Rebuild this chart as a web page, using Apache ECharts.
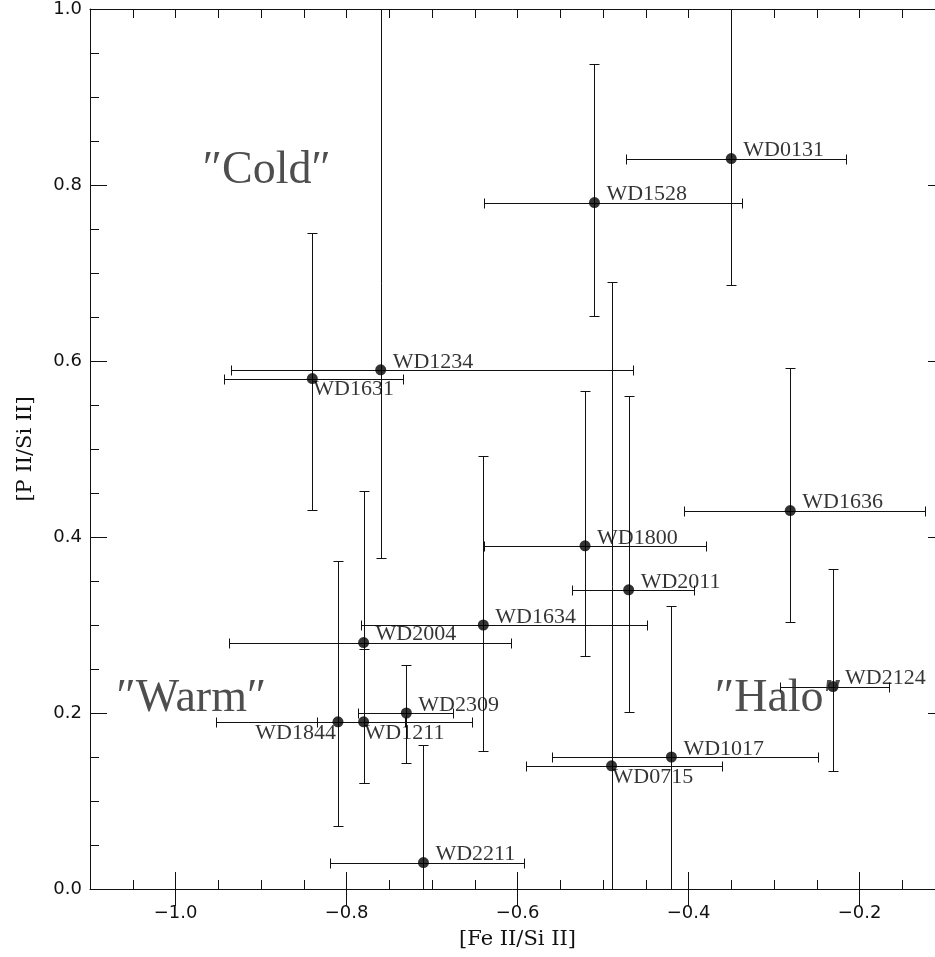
<!DOCTYPE html>
<html>
<head>
<meta charset="utf-8">
<script src="https://cdn.jsdelivr.net/npm/echarts@6/dist/echarts.min.js"></script>
<style>html,body{margin:0;padding:0;background:#fff;}#c{width:935px;height:957px;}</style>
</head>
<body>
<div id="c"></div>
<script>
// ---- data ----
const names    = ['WD0131','WD1528','WD1234','WD1631','WD1636','WD1800','WD2011','WD1634','WD2004','WD2124','WD2309','WD1844','WD1211','WD1017','WD0715','WD2211'];
const feSi     = [-0.350,-0.510,-0.760,-0.840,-0.281,-0.521,-0.470,-0.640,-0.780,-0.231,-0.730,-0.810,-0.780,-0.420,-0.490,-0.710];
const feSiLow  = [-0.473,-0.639,-0.935,-0.943,-0.405,-0.639,-0.536,-0.783,-0.938,-0.293,-0.787,-0.953,-0.835,-0.560,-0.590,-0.819];
const feSiHigh = [-0.2155,-0.337,-0.465,-0.734,-0.123,-0.379,-0.393,-0.449,-0.608,-0.166,-0.676,-0.653,-0.732,-0.248,-0.361,-0.592];
const pSi      = [0.830,0.780,0.590,0.580,0.430,0.390,0.340,0.300,0.280,0.230,0.200,0.190,0.190,0.150,0.140,0.030];
const pSiLow   = [0.686,0.651,0.376,0.431,0.303,0.265,0.201,0.157,0.120,0.134,0.143,0.072,0.120,-0.05,-0.05,-0.05];
const pSiHigh  = [1.05,0.938,1.05,0.746,0.592,0.566,0.560,0.492,0.4525,0.364,0.254,0.373,0.2725,0.322,0.690,0.164];
const labelsBelowRight = ['WD1631','WD1211','WD0715'];
const labelsBelowLeft  = ['WD1844'];
const xTicks = [-1.0,-0.8,-0.6,-0.4,-0.2];
const yTicks = [0.0,0.2,0.4,0.6,0.8,1.0];
const regionNames = ['\u2033Cold\u2033','\u2033Warm\u2033','\u2033Halo\u2033'];
const regionX = [-0.968,-1.069,-0.369];
const regionY = [0.816,0.216,0.216];

// ---- chart ----
const ink = '#111';
const serif = 'Liberation Serif';
const chart = echarts.init(document.getElementById('c'), null, {renderer:'canvas'});

const errRows = names.map((n,i)=>[feSi[i],pSi[i],feSiLow[i],feSiHigh[i],pSiLow[i],pSiHigh[i]]);

const pointData = names.map((n,i)=>{
  let label;
  if (labelsBelowRight.includes(n)) {
    label = {position:'inside', align:'left', verticalAlign:'top', offset:[1,0]};
  } else if (labelsBelowLeft.includes(n)) {
    label = {position:'inside', align:'right', verticalAlign:'top', offset:[-2,0]};
  } else {
    label = {position:'inside', align:'left', verticalAlign:'bottom', offset:[12,3]};
  }
  return {name:n, value:[feSi[i],pSi[i]], label};
});

const fmtMinus = v => (v<0?'\u2212':'') + Math.abs(v).toFixed(1);
const base = (extra) => Object.assign({
  type:'value', splitLine:{show:false},
  axisLine:{show:false, lineStyle:{color:ink,width:1}},
  axisLabel:{show:false},
}, extra);

const xBase = {min:-1.1, max:-0.1, interval:0.05};
const yBase = {min:0, max:1, interval:0.05};

const option = {
  backgroundColor:'#fff',
  animation:false,
  grid:{left:90, top:9, width:855, height:880, containLabel:false, outerBoundsMode:'none'},
  xAxis:[
    base(Object.assign({}, xBase, {position:'bottom',
      axisLine:{show:true, onZero:false, lineStyle:{color:ink,width:1}},
      axisTick:{show:true, inside:true, length:9, lineStyle:{color:ink}},
      name:'[Fe II/Si II]', nameLocation:'middle', nameGap:40,
      nameTextStyle:{fontFamily:'DejaVu Serif', fontSize:21, color:ink}})),
    base(Object.assign({}, xBase, {position:'bottom',
      axisTick:{show:true, inside:true, length:17, customValues:xTicks, lineStyle:{color:ink}},
      axisLabel:{show:true, customValues:xTicks, formatter:fmtMinus, margin:15,
        fontFamily:'DejaVu Sans', fontSize:18, color:ink}})),
    base(Object.assign({}, xBase, {position:'top',
      axisLine:{show:true, onZero:false, lineStyle:{color:ink,width:1}},
      axisTick:{show:true, inside:true, length:9, lineStyle:{color:ink}}})),
    base(Object.assign({}, xBase, {position:'top',
      axisTick:{show:true, inside:true, length:17, customValues:xTicks, lineStyle:{color:ink}}}))
  ],
  yAxis:[
    base(Object.assign({}, yBase, {position:'left',
      axisLine:{show:true, onZero:false, lineStyle:{color:ink,width:1}},
      axisTick:{show:true, inside:true, length:9, lineStyle:{color:ink}},
      name:'[P II/Si II]', nameLocation:'middle', nameGap:54, nameRotate:90,
      nameTextStyle:{fontFamily:'DejaVu Serif', fontSize:21, color:ink}})),
    base(Object.assign({}, yBase, {position:'left',
      axisTick:{show:true, inside:true, length:17, customValues:yTicks, lineStyle:{color:ink}},
      axisLabel:{show:true, customValues:yTicks, formatter:v=>v.toFixed(1), margin:8,
        fontFamily:'DejaVu Sans', fontSize:18, color:ink}})),
    base(Object.assign({}, yBase, {position:'right',
      axisLine:{show:true, onZero:false, lineStyle:{color:ink,width:1}},
      axisTick:{show:true, inside:true, length:9, lineStyle:{color:ink}}})),
    base(Object.assign({}, yBase, {position:'right',
      axisTick:{show:true, inside:true, length:17, customValues:yTicks, lineStyle:{color:ink}}}))
  ],
  series:[
    {
      type:'custom', name:'errors', xAxisIndex:0, yAxisIndex:0, clip:true,
      data:errRows, encode:{x:[0,2,3], y:[1,4,5]},
      renderItem(params, api){
        const x=api.value(0), y=api.value(1);
        const c=api.coord([x,y]);
        const pl=api.coord([api.value(2),y]), ph=api.coord([api.value(3),y]);
        const ql=api.coord([x,api.value(4)]), qh=api.coord([x,api.value(5)]);
        const r=v=>Math.round(v)+0.5;
        const cap=5;
        const style={stroke:ink, lineWidth:1};
        const mk=(x1,y1,x2,y2)=>({type:'line', shape:{x1,y1,x2,y2}, style});
        const cx=r(c[0]), cy=r(c[1]);
        return {type:'group', children:[
          mk(r(pl[0]),cy,r(ph[0]),cy),
          mk(r(pl[0]),cy-cap,r(pl[0]),cy+cap),
          mk(r(ph[0]),cy-cap,r(ph[0]),cy+cap),
          mk(cx,r(ql[1]),cx,r(qh[1])),
          mk(cx-cap,r(ql[1]),cx+cap,r(ql[1])),
          mk(cx-cap,r(qh[1]),cx+cap,r(qh[1]))
        ]};
      }
    },
    {
      type:'scatter', name:'stars', xAxisIndex:0, yAxisIndex:0,
      symbol:'circle', symbolSize:11, itemStyle:{color:'#000'},
      data:pointData,
      label:{show:true, formatter:p=>p.name, fontFamily:serif, fontSize:22, color:'#000'},
      emphasis:{disabled:true}
    },
    {
      type:'scatter', name:'regions', xAxisIndex:0, yAxisIndex:0,
      symbolSize:0, silent:true,
      data:regionNames.map((n,i)=>({name:n, value:[regionX[i],regionY[i]]})),
      label:{show:true, position:'inside', align:'left', verticalAlign:'middle',
        formatter:p=>p.name, fontFamily:serif, fontSize:46, color:'#222'}
    }
  ]
};
chart.setOption(option);
</script>
</body>
</html>
